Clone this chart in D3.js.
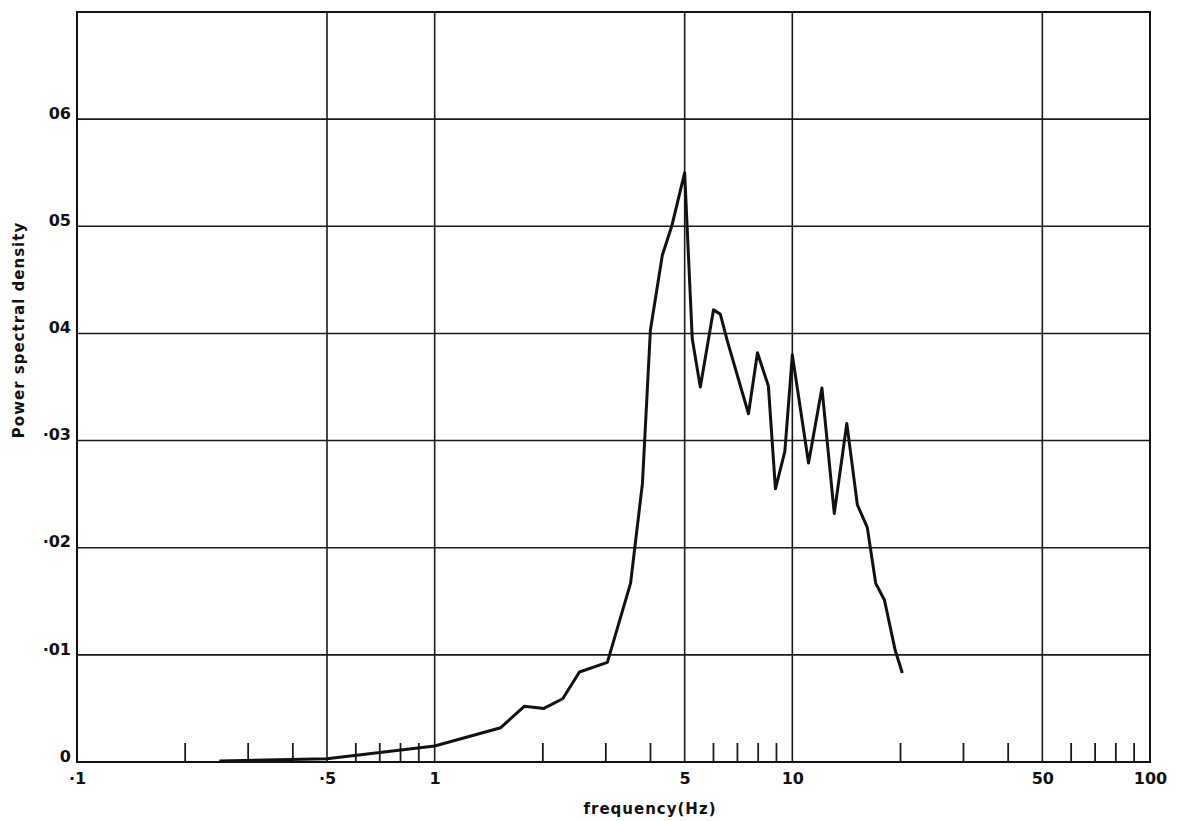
<!DOCTYPE html>
<html>
<head>
<meta charset="utf-8">
<script src="https://cdn.jsdelivr.net/npm/d3@7"></script>
<style>
  html, body { margin: 0; padding: 0; background: #fff; }
  svg { display: block; }
  text { font-family: "DejaVu Sans", sans-serif; font-weight: bold; fill: #111; }
</style>
</head>
<body>
<svg id="chart" width="1184" height="821"></svg>
<script>
// ---- data ----
const frequencies = [0.25, 0.5, 1.0, 1.53, 1.78, 2.02, 2.28, 2.54, 3.04, 3.53, 3.81, 4.01, 4.33, 4.6, 5.0,
  5.25, 5.53, 6.02, 6.29, 6.58, 7.54, 7.99, 8.57, 8.97, 9.53, 10.0, 11.1, 12.1, 13.1, 14.2,
  15.2, 16.2, 17.1, 18.1, 19.4, 20.3];
const psdValues = [0.0001, 0.0003, 0.0015, 0.0032, 0.0052, 0.0050, 0.0059, 0.0084, 0.0093, 0.0167, 0.0260, 0.0403, 0.0473, 0.0500, 0.0550,
  0.0395, 0.0350, 0.0422, 0.0418, 0.0393, 0.0325, 0.0382, 0.0351, 0.0255, 0.0290, 0.0380, 0.0279, 0.0349, 0.0232, 0.0316,
  0.0240, 0.0219, 0.0167, 0.0151, 0.0104, 0.0083];

const xMajorTicks = [0.1, 0.5, 1, 5, 10, 50, 100];
const xMajorLabels = ["·1", "·5", "1", "5", "10", "50", "100"];
const xGridValues = [0.5, 1, 5, 10, 50];
const xMinorTicks = [0.2, 0.3, 0.4, 0.6, 0.7, 0.8, 0.9, 2, 3, 4, 6, 7, 8, 9, 20, 30, 40, 60, 70, 80, 90];
const yTicks = [0, 0.01, 0.02, 0.03, 0.04, 0.05, 0.06];
const yTickLabels = ["0", "·01", "·02", "·03", "04", "05", "06"];
const xTitle = "frequency(Hz)";
const yTitle = "Power spectral density";

// ---- layout ----
const margin = { left: 77, top: 12, right: 34, bottom: 59 };
const W = 1184, H = 821;
const svg = d3.select("#chart");

const x = d3.scaleLog().domain([0.1, 100]).range([margin.left, W - margin.right]);
const y = d3.scaleLinear().domain([0, 0.07]).range([H - margin.bottom, margin.top]);

const x0 = x.range()[0], x1 = x.range()[1];
const yb = y.range()[0], yt = y.range()[1];

// grid
svg.append("g").selectAll("line.vg").data(xGridValues).join("line")
  .attr("x1", d => x(d)).attr("x2", d => x(d))
  .attr("y1", yt).attr("y2", yb)
  .attr("stroke", "#1a1a1a").attr("stroke-width", 1.6);

svg.append("g").selectAll("line.hg").data(yTicks.filter(d => d > 0)).join("line")
  .attr("x1", x0).attr("x2", x1)
  .attr("y1", d => y(d)).attr("y2", d => y(d))
  .attr("stroke", "#1a1a1a").attr("stroke-width", 1.6);

// minor ticks pointing upward from the baseline
const minorAxis = d3.axisTop(x).tickValues(xMinorTicks).tickSize(19).tickFormat("");
const gm = svg.append("g").attr("transform", `translate(0,${yb})`).call(minorAxis);
gm.select(".domain").remove();
gm.selectAll(".tick line").attr("stroke", "#1a1a1a").attr("stroke-width", 1.8);

// frame
svg.append("rect")
  .attr("x", x0).attr("y", yt)
  .attr("width", x1 - x0).attr("height", yb - yt)
  .attr("fill", "none").attr("stroke", "#111").attr("stroke-width", 2);

// x labels
const xAxis = d3.axisBottom(x).tickValues(xMajorTicks).tickSize(0)
  .tickFormat((d, i) => xMajorLabels[i]);
const gx = svg.append("g").attr("transform", `translate(0,${yb})`).call(xAxis);
gx.select(".domain").remove();
gx.selectAll(".tick text")
  .attr("y", 22).attr("dy", 0)
  .style("font-family", "'DejaVu Sans', sans-serif")
  .style("font-weight", "bold")
  .style("font-size", "16px")
  .attr("fill", "#111");

// y labels
const yAxis = d3.axisLeft(y).tickValues(yTicks).tickSize(0)
  .tickFormat((d, i) => yTickLabels[i]);
const gy = svg.append("g").attr("transform", `translate(${x0 - 6},0)`).call(yAxis);
gy.select(".domain").remove();
gy.selectAll(".tick text")
  .attr("x", 0).attr("dy", "-0.05em")
  .style("font-family", "'DejaVu Sans', sans-serif")
  .style("font-weight", "bold")
  .style("font-size", "16px")
  .attr("fill", "#111");

// titles
svg.append("text")
  .attr("x", 650).attr("y", 814)
  .attr("text-anchor", "middle")
  .style("font-size", "15px")
  .style("letter-spacing", "1px")
  .text(xTitle);

svg.append("text")
  .attr("transform", `translate(24,${(yt + yb) / 2 - 57}) rotate(-90)`)
  .attr("text-anchor", "middle")
  .style("font-size", "15px")
  .style("letter-spacing", "1px")
  .text(yTitle);

// curve
const data = frequencies.map((f, i) => ({ f, v: psdValues[i] }));
const line = d3.line().x(d => x(d.f)).y(d => y(d.v));
svg.append("path")
  .datum(data)
  .attr("d", line)
  .attr("fill", "none")
  .attr("stroke", "#111")
  .attr("stroke-width", 3)
  .attr("stroke-linejoin", "round");
</script>
</body>
</html>
